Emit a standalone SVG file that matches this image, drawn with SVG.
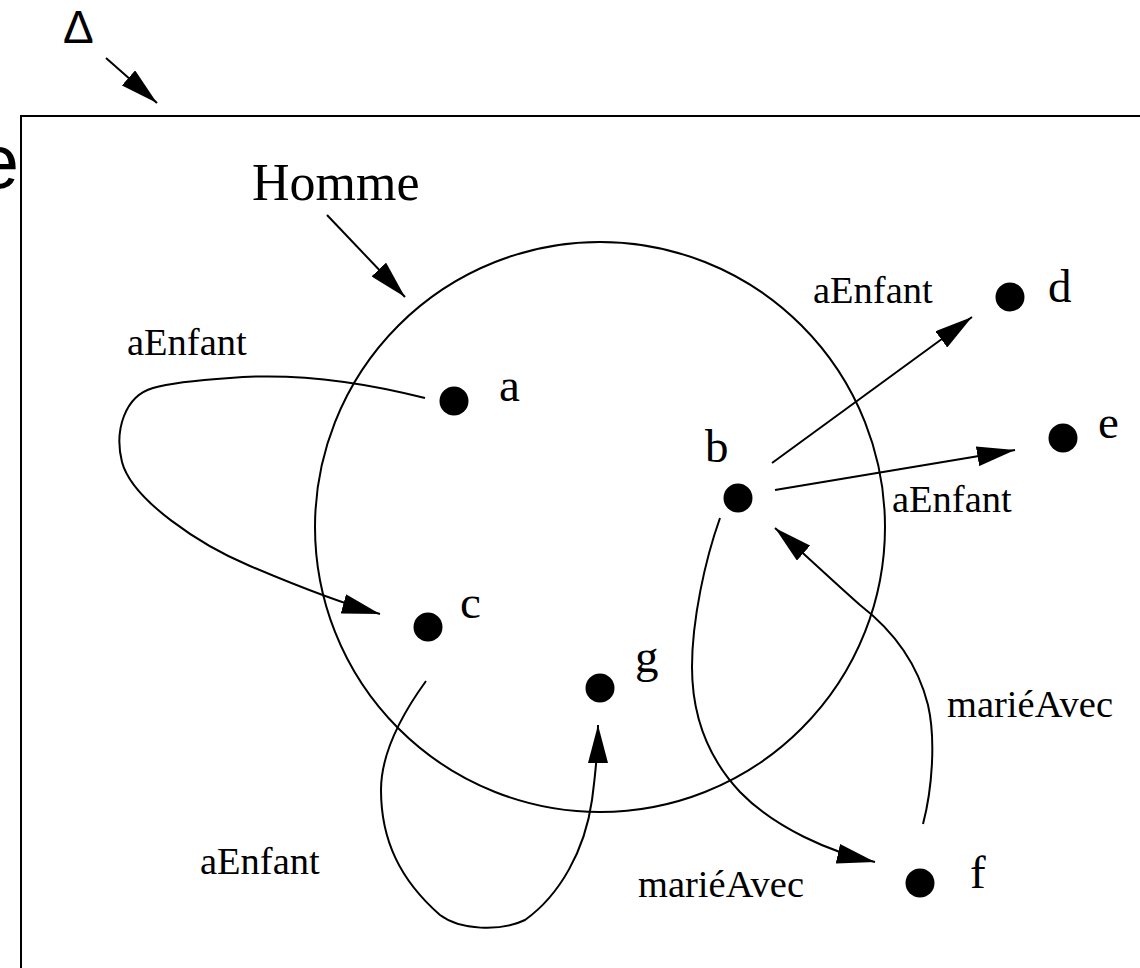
<svg xmlns="http://www.w3.org/2000/svg" width="1140" height="968" viewBox="0 0 1140 968">
<style>
.ln{fill:none;stroke:#000;stroke-width:2}
.ar{fill:none;stroke:#000;stroke-width:2;marker-end:url(#ah)}
.dot{fill:#000}
.lbl{font-family:"Liberation Serif","Times New Roman",serif;font-size:38.5px;fill:#000}
.big{font-family:"Liberation Serif","Times New Roman",serif;font-size:52px;fill:#000}
.let{font-family:"Liberation Serif","Times New Roman",serif;font-size:47px;fill:#000}
.sans{font-family:"Liberation Sans",Arial,sans-serif;fill:#000}
</style>
<defs>
<marker id="ah" viewBox="0 0 38 20" markerWidth="38" markerHeight="20" markerUnits="userSpaceOnUse" refX="38" refY="10" orient="auto">
<path d="M0,0 L38,10 L0,20 z" fill="#000"/>
</marker>
</defs>
<rect x="21" y="116" width="1200" height="900" class="ln"/>
<text x="19" y="188" class="sans" font-size="76" text-anchor="end">e</text>
<g id="delta">
<text x="63" y="43" class="sans" font-size="46">Δ</text>
</g>
<g id="homme">
<circle cx="600" cy="527" r="285" class="ln"/>
<text x="252" y="200" class="big">Homme</text>
</g>
<g id="node-a"><circle cx="454" cy="401" r="14.5" class="dot"/><text x="499" y="401" class="let">a</text></g>
<g id="node-b"><circle cx="738" cy="498" r="14.5" class="dot"/><text x="705" y="462" class="let">b</text></g>
<g id="node-c"><circle cx="428" cy="627" r="14.5" class="dot"/><text x="460" y="618" class="let">c</text></g>
<g id="node-d"><circle cx="1010" cy="297" r="14.5" class="dot"/><text x="1048" y="302" class="let">d</text></g>
<g id="node-e"><circle cx="1063" cy="438" r="14.5" class="dot"/><text x="1098" y="438" class="let">e</text></g>
<g id="node-f"><circle cx="920" cy="883" r="14.5" class="dot"/><text x="970" y="888" class="let">f</text></g>
<g id="node-g"><circle cx="600" cy="688" r="14.5" class="dot"/><text x="635" y="672" class="let">g</text></g>
<g id="connectors">
<path d="M106,58 L157,103" class="ar"/>
<path d="M327,215 L405,297" class="ar"/>
<path d="M425,398 C370,384 300,372 230,378 C200,380 170,383 153,388 C125,396 114,430 122,462 C132,500 200,545 250,566 C290,583 340,603 380,614" class="ar"/>
<path d="M772,463 L972,317" class="ar"/>
<path d="M775,490 L1015,450" class="ar"/>
<path d="M426,681 C405,710 381,750 381,790 C381,840 400,880 440,915 C460,930 500,932 525,920 C560,895 585,850 592,800 C596,770 598,745 598,725" class="ar"/>
<path d="M720,518 C705,560 692,620 692,667 C692,720 710,760 740,792 C775,828 830,852 875,862" class="ar"/>
<path d="M923,824 C932,790 936,740 928,705 C918,665 895,632 860,605 C835,583 800,550 775,528" class="ar"/>
<text x="127" y="355" class="lbl">aEnfant</text>
<text x="813" y="303" class="lbl">aEnfant</text>
<text x="892" y="512" class="lbl">aEnfant</text>
<text x="200" y="874" class="lbl">aEnfant</text>
<text x="947" y="717" class="lbl">mariéAvec</text>
<text x="638" y="897" class="lbl">mariéAvec</text>
</g>
</svg>
